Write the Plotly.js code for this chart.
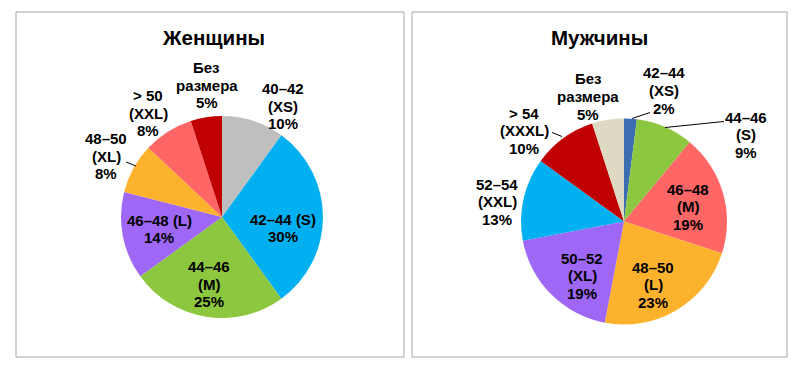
<!DOCTYPE html>
<html>
<head>
<meta charset="utf-8">
<script src="https://cdn.plot.ly/plotly-3.0.1.min.js"></script>
<style>html,body{margin:0;padding:0;background:#fff;}#chart{width:810px;height:369px;}</style>
</head>
<body>
<div id="chart"></div>
<script>
// ---- data ----
const womenLabels = ["40–42<br>(XS)", "42–44 (S)", "44–46<br>(M)", "46–48 (L)", "48–50<br>(XL)", "> 50<br>(XXL)", "Без<br>размера"];
const womenValues = [10, 30, 25, 14, 8, 8, 5];
const womenColors = ["#BFBFBF", "#00B0F0", "#8DC63F", "#9F67F5", "#FDB22E", "#FF6666", "#C00000"];

const menLabels = ["42–44<br>(XS)", "44–46<br>(S)", "46–48<br>(M)", "48–50<br>(L)", "50–52<br>(XL)", "52–54<br>(XXL)", "> 54<br>(XXXL)", "Без<br>размера"];
const menValues = [2, 9, 19, 23, 19, 13, 10, 5];
const menColors = ["#3B6DB0", "#8DC63F", "#FF6666", "#FDB22E", "#9F67F5", "#00B0F0", "#C00000", "#DDD9C3"];

const titles = ["Женщины", "Мужчины"];

// ---- layout helpers (pixel geometry of each pie and its labels) ----
const W = 810, H = 369;
const pies = [
  {cx: 222, cy: 217, r: 101, title: {x: 213, y: 37},
   // label centre offsets from pie centre, px
   lab: [[61,-111],[61,11],[-13,67],[-63,12],[-116,-61],[-74,-104],[-15,-132]],
   lines: [[[-96,-55],[-86,-51]]]},
  {cx: 624, cy: 221.5, r: 103, title: {x: 599, y: 37},
   lab: [[40,-131],[122,-87],[64,-15],[29,63],[-42,54],[-127,-20],[-100,-91],[-36,-125]],
   lines: [[[8,-103],[26,-109]], [[41,-94],[100,-100]], [[-72,-89],[-62,-85]]]}
];

const font = {family: "Liberation Sans, Arial, sans-serif", size: 15, color: "#000"};
const lineStep = 17.5;

function pieTrace(values, colors, labels, p) {
  return {
    type: "pie", labels: labels, values: values, sort: false, direction: "clockwise", rotation: 0,
    marker: {colors: colors, line: {width: 0}},
    textinfo: "none", hoverinfo: "none", showlegend: false,
    domain: {x: [(p.cx - p.r) / W, (p.cx + p.r) / W], y: [1 - (p.cy + p.r) / H, 1 - (p.cy - p.r) / H]}
  };
}

const annotations = [];
const shapes = [
  {type: "rect", xref: "paper", yref: "paper", x0: 16/W, x1: 404/W, y0: 1-357/H, y1: 1-12/H, line: {color: "#A6A6A6", width: 1}},
  {type: "rect", xref: "paper", yref: "paper", x0: 412/W, x1: 787/W, y0: 1-357/H, y1: 1-12/H, line: {color: "#A6A6A6", width: 1}}
];

function addLabels(labels, values, p) {
  labels.forEach((lb, i) => {
    const lines = lb.split("<br>").concat([values[i] + "%"]);
    const n = lines.length;
    const x = p.cx + p.lab[i][0], y = p.cy + p.lab[i][1];
    lines.forEach((t, k) => {
      annotations.push({
        text: "<b>" + t + "</b>", x: x / W, y: 1 - (y + (k - (n - 1) / 2) * lineStep) / H,
        xref: "paper", yref: "paper", xanchor: "center", yanchor: "middle", showarrow: false, font: font
      });
    });
  });
  p.lines.forEach(l => {
    shapes.push({type: "line", xref: "paper", yref: "paper",
      x0: (p.cx + l[0][0]) / W, y0: 1 - (p.cy + l[0][1]) / H,
      x1: (p.cx + l[1][0]) / W, y1: 1 - (p.cy + l[1][1]) / H,
      line: {color: "#000", width: 1}});
  });
  annotations.push({text: "<b>" + p.titleText + "</b>", x: p.title.x / W, y: 1 - p.title.y / H,
    xref: "paper", yref: "paper", xanchor: "center", yanchor: "middle", showarrow: false,
    font: {family: font.family, size: 20.5, color: "#000"}});
}

pies[0].titleText = titles[0];
pies[1].titleText = titles[1];

const data = [
  pieTrace(womenValues, womenColors, womenLabels, pies[0]),
  pieTrace(menValues, menColors, menLabels, pies[1])
];
addLabels(womenLabels, womenValues, pies[0]);
addLabels(menLabels, menValues, pies[1]);

const layout = {
  width: W, height: H, margin: {l: 0, r: 0, t: 0, b: 0},
  paper_bgcolor: "#fff", showlegend: false, shapes: shapes, annotations: annotations
};

Plotly.newPlot("chart", data, layout, {staticPlot: true, displayModeBar: false});
</script>
</body>
</html>
